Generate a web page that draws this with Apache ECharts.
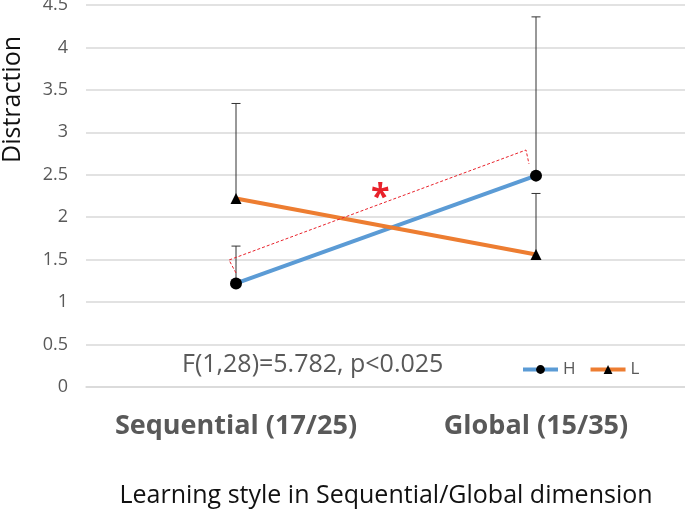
<!DOCTYPE html>
<html lang="en">
<head>
<meta charset="utf-8">
<title>Distraction by learning style</title>
<script src="https://cdn.jsdelivr.net/npm/echarts@6/dist/echarts.min.js"></script>
<style>
  html, body { margin: 0; padding: 0; background: #fff; }
  #main { width: 685px; height: 514px; }
</style>
</head>
<body>
<div id="main"></div>
<script>
// chart data
var categories = ['Sequential (17/25)', 'Global (15/35)'];
var yTicks = [0, 0.5, 1, 1.5, 2, 2.5, 3, 3.5, 4, 4.5];
var hValues = [1.22, 2.49];
var lValues = [2.22, 1.56];
var hUpper = [1.66, 4.36];   // top of error bar
var lUpper = [3.34, 2.28];

var FONT = '"Open Sans", "Noto Sans", sans-serif';

var chart = echarts.init(document.getElementById('main'));

function errorBars(name, values, upper) {
    var data = values.map(function (v, i) { return [i, v, upper[i]]; });
    return {
        name: name + ' err',
        type: 'custom',
        silent: true,
        z: 3,
        renderItem: function (params, api) {
            var p0 = api.coord([api.value(0), api.value(1)]);
            var p1 = api.coord([api.value(0), api.value(2)]);
            var cap = 4.5;
            var st = { stroke: '#333', lineWidth: 1 };
            return {
                type: 'group',
                children: [
                    { type: 'line', shape: { x1: p0[0], y1: p0[1], x2: p1[0], y2: p1[1] }, style: st },
                    { type: 'line', shape: { x1: p1[0] - cap, y1: p1[1], x2: p1[0] + cap, y2: p1[1] }, style: st }
                ]
            };
        },
        data: data
    };
}

var option = {
    animation: false,
    grid: { left: 86, right: -1, top: 5, bottom: 127, outerBoundsMode: 'none', containLabel: false },
    legend: {
        left: 516, top: 356,
        itemWidth: 35, itemHeight: 11, itemGap: 13,
        lineStyle: { width: 4 },
        textStyle: { fontFamily: FONT, fontSize: 17, color: '#595959' },
        data: ['H', 'L']
    },
    xAxis: {
        type: 'category',
        data: categories,
        axisLine: { lineStyle: { color: '#d9d9d9', width: 1.5 } },
        axisTick: { show: false },
        axisLabel: {
            interval: 0, hideOverlap: false, margin: 26,
            fontFamily: FONT, fontSize: 27, fontWeight: 'bold', color: '#595959'
        },
        name: 'Learning style in Sequential/Global dimension',
        nameLocation: 'middle',
        nameGap: 96,
        nameTextStyle: { fontFamily: FONT, fontSize: 25, color: '#111' }
    },
    yAxis: {
        type: 'value',
        min: yTicks[0],
        max: yTicks[yTicks.length - 1],
        interval: 0.5,
        axisLine: { show: false },
        axisTick: { show: false },
        splitLine: { lineStyle: { color: '#d9d9d9', width: 1.5 } },
        axisLabel: { margin: 18, fontFamily: FONT, fontSize: 18, color: '#595959' }
    },
    graphic: [
        {
            type: 'text', left: 0, top: 36, rotation: Math.PI / 2,
            style: { text: 'Distraction', font: '25px ' + FONT, fill: '#111' }
        },
        {
            type: 'text', left: 182, top: 352,
            style: { text: 'F(1,28)=5.782, p<0.025', font: '25px ' + FONT, fill: '#595959' }
        },
        {
            type: 'polyline', z: 5,
            shape: { points: [[236, 273], [229, 260], [526, 150], [529, 164]] },
            style: { stroke: '#e8222b', lineWidth: 1, lineDash: [3, 2], fill: null }
        },
        {
            type: 'text', left: 371, top: 181, z: 5,
            style: { text: '*', font: 'bold 34px ' + FONT, fill: '#e8222b' }
        }
    ],
    series: [
        errorBars('H', hValues, hUpper),
        errorBars('L', lValues, lUpper),
        {
            name: 'H', type: 'line', data: hValues, z: 4,
            symbol: 'circle', symbolSize: 12,
            lineStyle: { color: '#5b9bd5', width: 4 },
            itemStyle: { color: '#000' }
        },
        {
            name: 'L', type: 'line', data: lValues, z: 4,
            symbol: 'triangle', symbolSize: 11,
            lineStyle: { color: '#ed7d31', width: 4 },
            itemStyle: { color: '#000' }
        }
    ]
};

chart.setOption(option);
</script>
</body>
</html>
